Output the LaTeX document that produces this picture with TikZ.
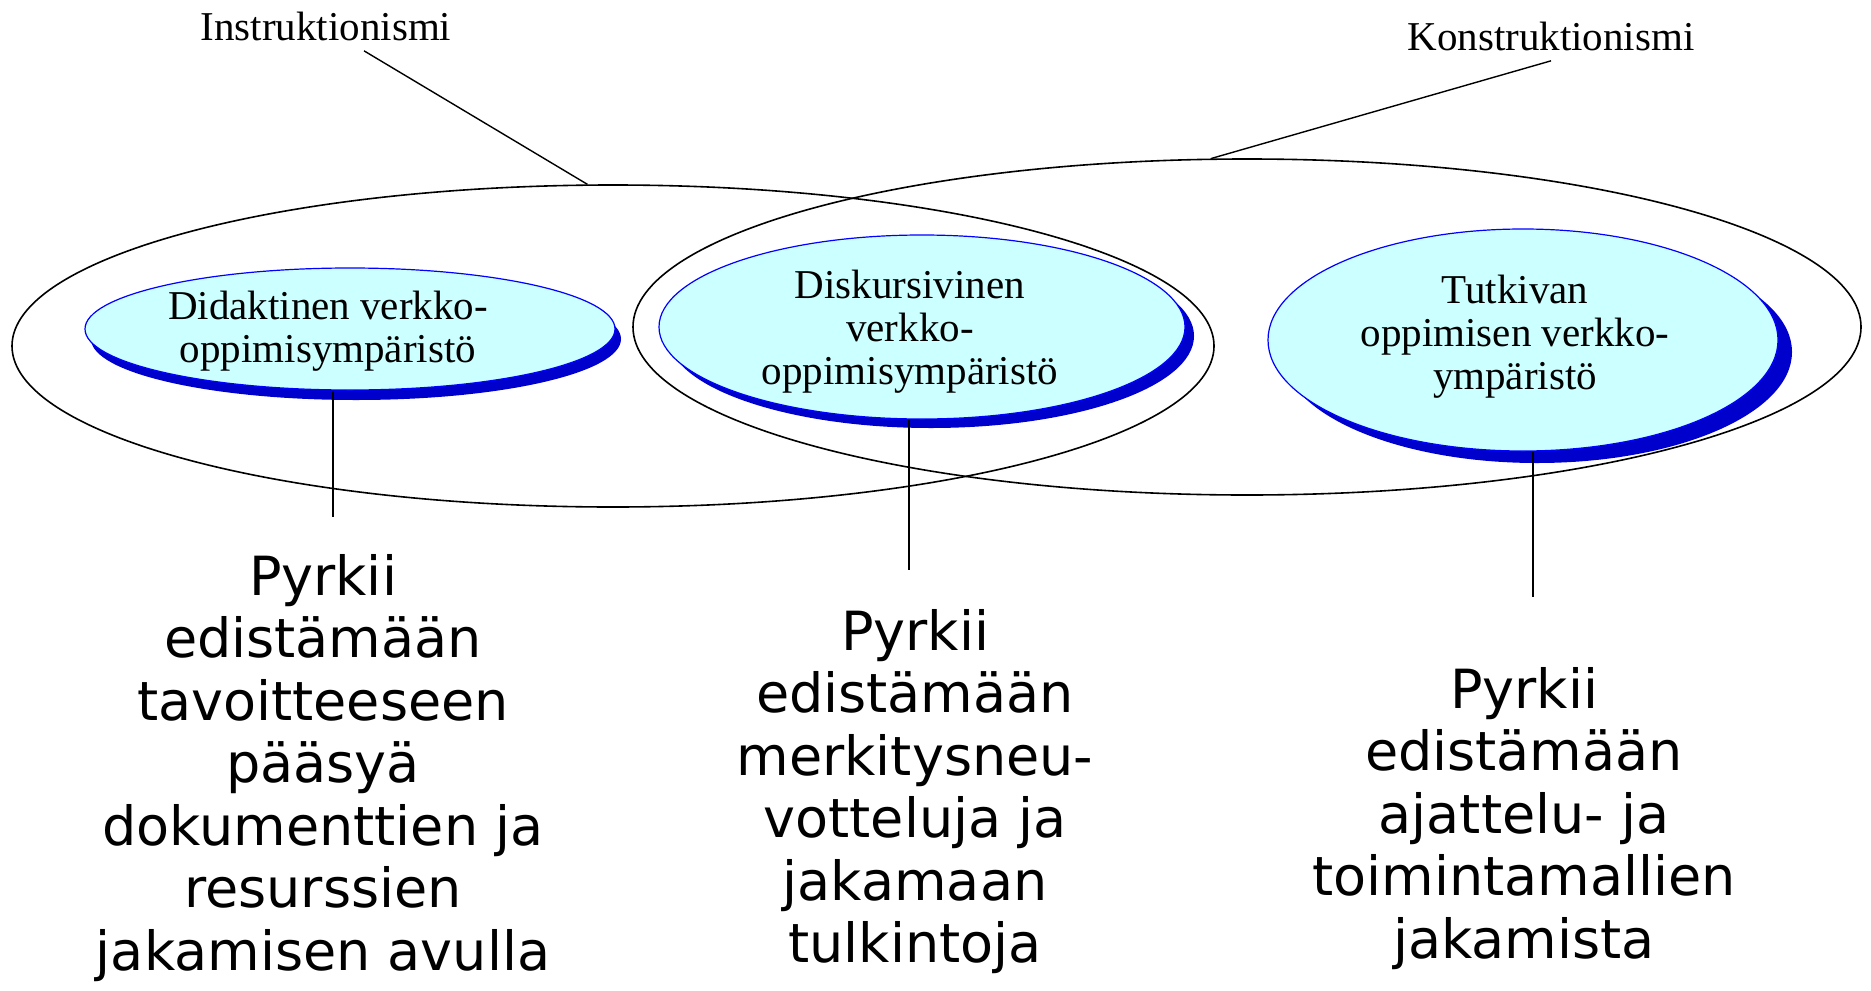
\documentclass[tikz,border=0pt]{standalone}
\usepackage{fontspec}
\setmainfont{Liberation Serif}
\newfontfamily\aimfont{DejaVu Sans}
\usetikzlibrary{shapes.geometric,shadows}
\definecolor{envfill}{RGB}{204,255,255}
\definecolor{envline}{RGB}{0,0,255}
\definecolor{envshadow}{RGB}{0,0,204}
\tikzset{
  bigell/.style={draw, line width=0.8pt, ellipse, inner sep=0pt},
  envell/.style 2 args={draw=envline, line width=0.6pt, fill=envfill, ellipse, inner sep=0pt,
    drop shadow={shadow xshift=#1, shadow yshift=#2, fill=envshadow, opacity=1}},
  envtext/.style={align=center, inner sep=0pt, font=\fontsize{20.5pt}{21.5pt}\selectfont},
  theory/.style={inner sep=0pt, font=\fontsize{20.5pt}{24pt}\selectfont},
  aimtext/.style={align=center, anchor=north, inner sep=0pt, font=\aimfont\fontsize{27pt}{31.25pt}\selectfont}
}
\begin{document}
\begin{tikzpicture}[x=0.5pt, y=-0.5pt]
  \useasboundingbox (0,0) rectangle (1871,990);
  \node[bigell, minimum width=601pt, minimum height=161pt] (instr) at (613,346) {};
  \node[bigell, minimum width=614pt, minimum height=168pt] (konstr) at (1247,327) {};
  \node[envell={3pt}{-5pt}, minimum width=265pt, minimum height=61pt] (did) at (350,329) {};
  \node[envell={4.5pt}{-4.5pt}, minimum width=263pt, minimum height=92pt] (disk) at (922,327) {};
  \node[envell={7pt}{-6pt}, minimum width=255pt, minimum height=111pt] (tutk) at (1523,340) {};
  \node[envtext] (didtxt) at (328,331) {Didaktinen verkko-\\oppimisympäristö};
  \node[envtext] (disktxt) at (910,332) {Diskursivinen\\verkko-\\oppimisympäristö};
  \node[envtext] (tutktxt) at (1515,337) {Tutkivan\\oppimisen verkko-\\ympäristö};
  \node[theory] (inst) at (326,26) {Instruktionismi};
  \node[theory] (konst) at (1551,36) {Konstruktionismi};
  \node[aimtext] (aim1) at (323,554) {Pyrkii\\edistämään\\tavoitteeseen\\pääsyä\\dokumenttien ja\\resurssien\\jakamisen avulla};
  \node[aimtext] (aim2) at (915,609) {Pyrkii\\edistämään\\merkitysneu-\\votteluja ja\\jakamaan\\tulkintoja};
  \node[aimtext] (aim3) at (1524,667) {Pyrkii\\edistämään\\ajattelu- ja\\toimintamallien\\jakamista};
  \coordinate (end1) at (333,517);
  \coordinate (end2) at (909,570);
  \coordinate (end3) at (1533,597);
  \begin{scope}[line width=0.7pt]
    \draw ([xshift=19pt,yshift=-5pt]inst.south) -- (instr.99);
    \draw ([yshift=-5pt]konst.south) -- (konstr.102);
    \draw (did.south -| end1) -- (end1);
    \draw (disk.south -| end2) -- (end2);
    \draw (tutk.south -| end3) -- (end3);
  \end{scope}
\end{tikzpicture}
\end{document}
